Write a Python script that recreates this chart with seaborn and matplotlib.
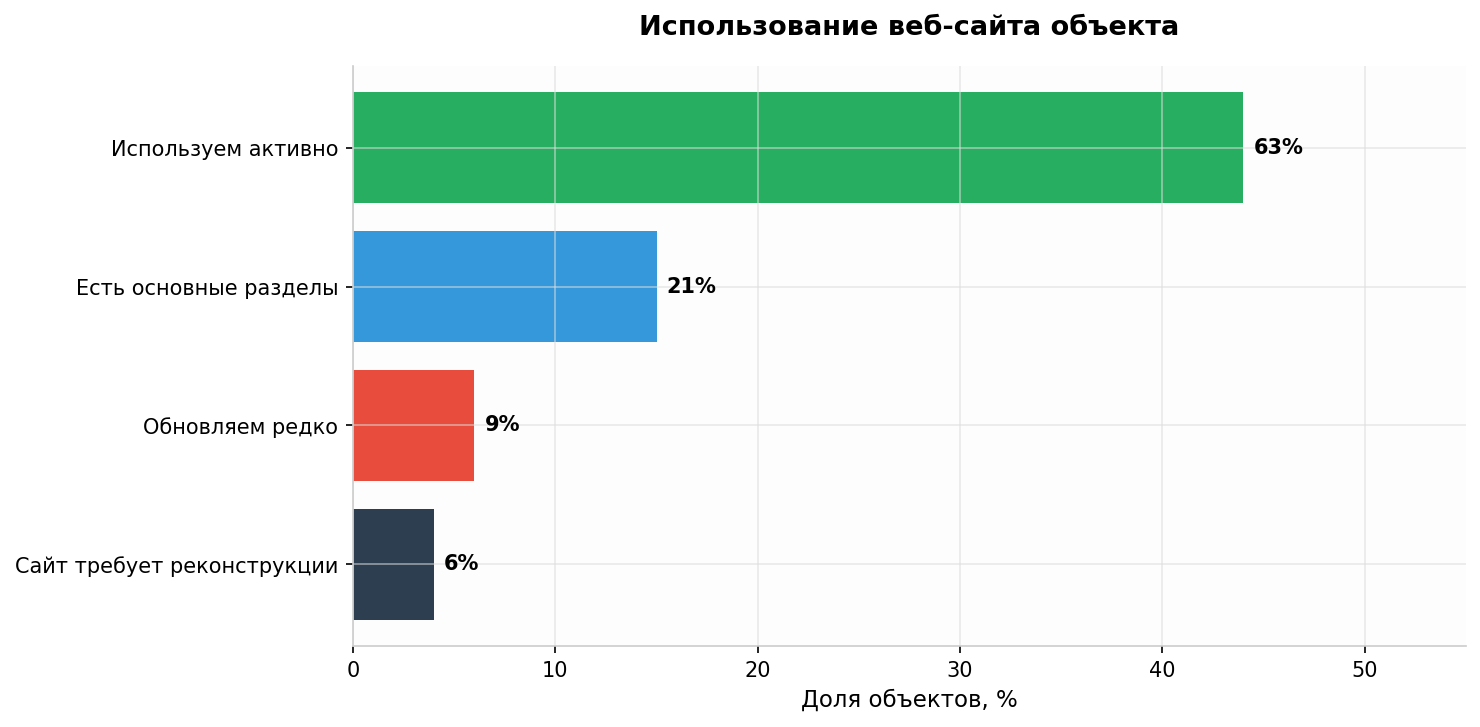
import matplotlib
matplotlib.use("Agg")
import matplotlib.pyplot as plt
import pandas as pd
import seaborn as sns

# Данные графика
CATEGORIES = [
    "Используем активно",
    "Есть основные разделы",
    "Обновляем редко",
    "Сайт требует реконструкции",
]
VALUES = [44, 15, 6, 4]
LABELS = ["63%", "21%", "9%", "6%"]
COLORS = ["#27ae60", "#3498db", "#e74c3c", "#2c3e50"]

df = pd.DataFrame({"category": CATEGORIES, "value": VALUES})

fig = plt.figure(figsize=(1480 / 150, 727 / 150), dpi=150)
ax = fig.add_axes([0.2385, 0.1114, 0.752, 0.7978])
ax.set_facecolor("#fdfdfd")

sns.barplot(data=df, x="value", y="category", hue="category",
            palette=COLORS, orient="h", width=0.8, saturation=1,
            legend=False, ax=ax)

for i, (val, lab) in enumerate(zip(VALUES, LABELS)):
    ax.text(val + 0.5, i, lab, ha="left", va="center",
            fontsize=10, fontweight="bold")

ax.set_xlim(0, 55)
ax.set_ylim(len(CATEGORIES) - 0.41, -0.59)
ax.set_xticks([0, 10, 20, 30, 40, 50])
ax.grid(True, color="#dddddd", alpha=0.6, linewidth=0.8)
ax.set_axisbelow("line")
for side in ["top", "right"]:
    ax.spines[side].set_visible(False)
for side in ["left", "bottom"]:
    ax.spines[side].set_color("#cccccc")
ax.tick_params(labelsize=10)
ax.set_ylabel("")
ax.set_xlabel("Доля объектов, %", fontsize=11)
ax.set_title("Использование веб-сайта объекта", fontsize=13,
             fontweight="bold", pad=15)

plt.savefig("out.png", dpi=150)
plt.close()
